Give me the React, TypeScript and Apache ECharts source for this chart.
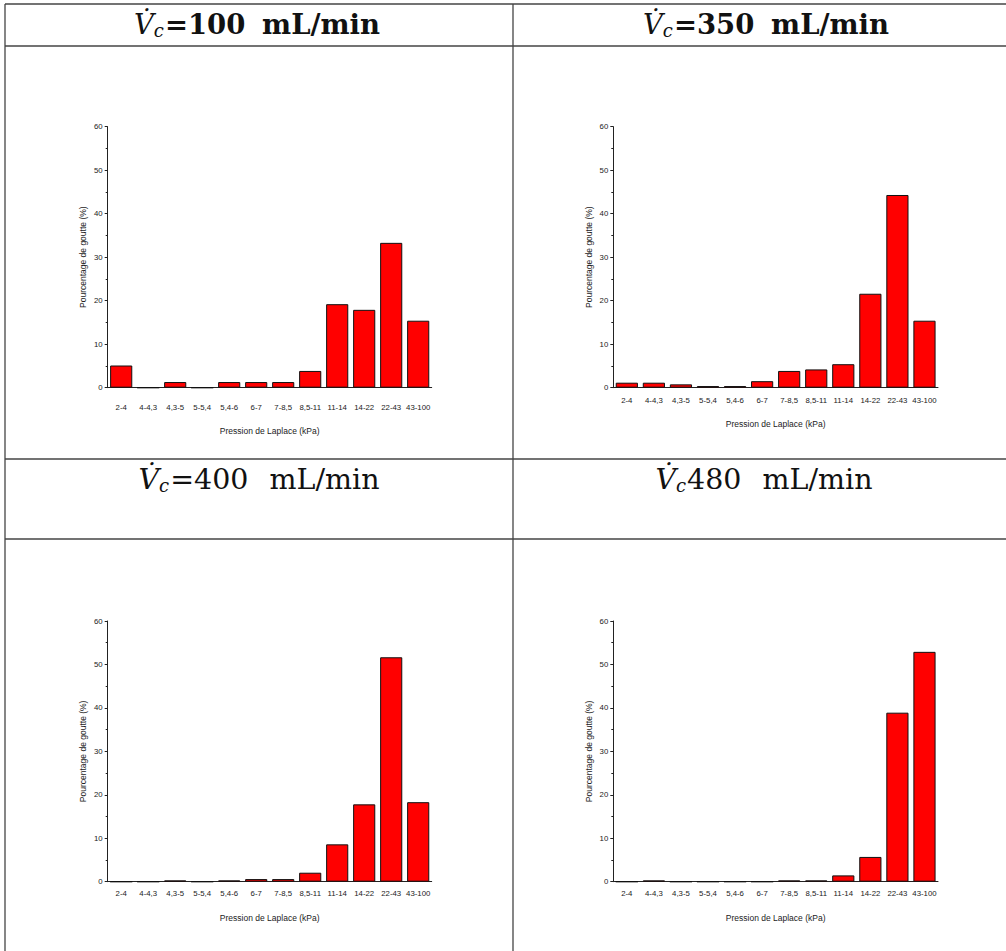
import React, { useEffect, useRef } from "react";
import * as echarts from "echarts";

const categories = ["2-4", "4-4,3", "4,3-5", "5-5,4", "5,4-6", "6-7", "7-8,5", "8,5-11", "11-14", "14-22", "22-43", "43-100"];
const values100 = [5.1, 0, 1.3, 0, 1.3, 1.3, 1.3, 3.85, 19.2, 17.9, 33.3, 15.4];
const values350 = [1.15, 1.15, 0.77, 0.38, 0.38, 1.5, 3.85, 4.2, 5.4, 21.6, 44.3, 15.4];
const values400 = [0, 0, 0.3, 0, 0.3, 0.6, 0.6, 2.07, 8.6, 17.8, 51.65, 18.3];
const values480 = [0, 0.3, 0, 0, 0, 0, 0.3, 0.3, 1.45, 5.7, 38.9, 52.9];
const titleValues = ["100", "350", "400", "480"];
const titleSeparators = ["=", "=", "=", ""];
const xName = "Pression de Laplace (kPa)";
const yName = "Pourcentage de goutte (%)";

export default function App() {
  const ref = useRef<HTMLDivElement>(null);
  useEffect(() => {
    if (!ref.current) return;
    const chart = echarts.init(ref.current, null, { renderer: "svg" });
    const panels = [
      { data: values100, left: 107.7, right: 1006 - 431.7, top: 126.7, bottom: 951 - 387.7, labelMargin: 16, nameGap: 39 },
      { data: values350, left: 613.3, right: 1006 - 938, top: 126.7, bottom: 951 - 387.7, labelMargin: 9, nameGap: 32 },
      { data: values400, left: 107.7, right: 1006 - 431.7, top: 621, bottom: 951 - 881.7, labelMargin: 8, nameGap: 32 },
      { data: values480, left: 613.3, right: 1006 - 938, top: 621, bottom: 951 - 881.7, labelMargin: 8, nameGap: 32 },
    ];
    const font = "'Liberation Sans', Arial, sans-serif";
    const grid = panels.map((p) => ({ left: p.left, right: p.right, top: p.top, bottom: p.bottom, containLabel: false }));
    const xAxis = panels.map((p, i) => ({
      type: "category",
      gridIndex: i,
      data: categories,
      name: xName,
      nameLocation: "middle",
      nameGap: p.nameGap,
      nameTextStyle: { fontSize: 8.5, fontFamily: font, color: "#222" },
      axisLine: { lineStyle: { color: "#222", width: 1 } },
      axisTick: { alignWithLabel: true, length: 3, interval: 0, lineStyle: { color: "#222" } },
      axisLabel: { interval: 0, fontSize: 7.8, fontFamily: font, color: "#222", margin: p.labelMargin },
      splitLine: { show: false },
    }));
    const yAxis = panels.map((p, i) => ({
      type: "value",
      gridIndex: i,
      min: 0,
      max: 60,
      interval: 10,
      name: yName,
      nameLocation: "middle",
      nameGap: 20,
      nameTextStyle: { fontSize: 8.5, fontFamily: font, color: "#222" },
      axisLine: { show: true, lineStyle: { color: "#222", width: 1 } },
      axisTick: { show: true, length: 3, lineStyle: { color: "#222" } },
      minorTick: { show: true, splitNumber: 2, length: 2, lineStyle: { color: "#222" } },
      axisLabel: { fontSize: 7.8, fontFamily: font, color: "#222", margin: 5 },
      splitLine: { show: false },
    }));
    const series = panels.map((p, i) => ({
      type: "bar",
      xAxisIndex: i,
      yAxisIndex: i,
      data: p.data,
      barCategoryGap: "18%",
      itemStyle: { color: "#ff0000", borderColor: "#111", borderWidth: 1 },
    }));
    const lineStyle = { stroke: "#444", lineWidth: 1.3 };
    const hLine = (y: number) => ({ type: "line", shape: { x1: 5, y1: y, x2: 1006, y2: y }, style: lineStyle, silent: true });
    const vLine = (x: number) => ({ type: "line", shape: { x1: x, y1: 4, x2: x, y2: 951 }, style: lineStyle, silent: true });
    const titlePos = [
      { x: 257, y: 24 },
      { x: 766, y: 24 },
      { x: 259, y: 479 },
      { x: 764, y: 479 },
    ];
    const serif = "'DejaVu Serif', 'Liberation Serif', serif";
    const titles = titlePos.map((tp, i) => {
      const bold = i < 2;
      const size = bold ? 27.5 : 28.5;
      return {
        type: "text",
        x: tp.x,
        y: tp.y,
        silent: true,
        style: {
          text: "{v|V\u0307}{c|c}{b|" + titleSeparators[i] + titleValues[i] + "}{g| }{b|mL/min}",
          align: "center",
          verticalAlign: "middle",
          rich: {
            v: { fontSize: size, fontStyle: "italic", fontFamily: serif, fill: "#111" },
            c: { fontSize: 18, fontStyle: "italic", fontFamily: serif, fill: "#111", padding: [12, 1, 0, 0] },
            b: { fontSize: size, fontWeight: bold ? "bold" : "normal", fontFamily: serif, fill: "#111" },
            g: { fontSize: size, fontFamily: serif, padding: [0, bold ? 8 : 12, 0, 0] },
          },
        },
      };
    });
    chart.setOption({
      animation: false,
      backgroundColor: "#ffffff",
      grid,
      xAxis,
      yAxis,
      series,
      graphic: [hLine(4), hLine(46), hLine(459), hLine(539), vLine(5), vLine(513), ...titles],
    });
    return () => chart.dispose();
  }, []);
  return <div ref={ref} style={{ position: "absolute", left: 0, top: 0, width: 1006, height: 951 }} />;
}
